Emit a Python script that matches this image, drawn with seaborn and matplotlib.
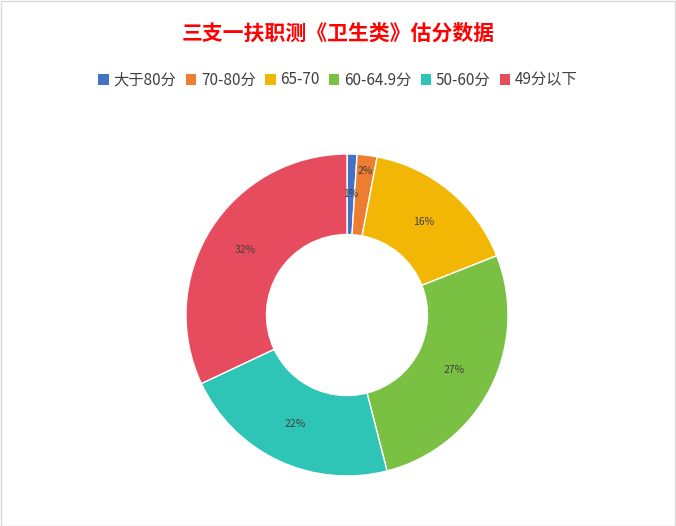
import matplotlib
matplotlib.use("Agg")
import numpy as np
import matplotlib.pyplot as plt
from matplotlib.patches import Patch, Rectangle
import seaborn as sns

# data
categories = ["大于80分", "70-80分", "65-70", "60-64.9分", "50-60分", "49分以下"]
shares = [1, 2, 16, 27, 22, 32]
colors = ["#4472C4", "#ED7D31", "#F2B705", "#7AC043", "#2EC4B6", "#E64B5E"]

sns.set_theme(style="white")
plt.rcParams["font.family"] = ["Noto Sans CJK SC", "DejaVu Sans"]

W, H = 676, 526
fig = plt.figure(figsize=(W / 100, H / 100), dpi=100)
fig.patch.set_facecolor("white")

# light frame around the chart area
fig.add_artist(Rectangle((0.5 / W, 0.5 / H), 1 - 1.5 / W, 1 - 1.5 / H,
                         transform=fig.transFigure, fill=False,
                         edgecolor="#D9D9D9", linewidth=1))

# donut: centre ~ (347, 315) px, outer radius ~161 px
cx, cy, r = 347, 315, 161
ax = fig.add_axes([(cx - r) / W, (H - cy - r) / H, 2 * r / W, 2 * r / H])
wedges, texts, autotexts = ax.pie(
    shares,
    colors=colors,
    startangle=90,
    counterclock=False,
    radius=1,
    autopct="%d%%",
    pctdistance=0.75,
    wedgeprops=dict(width=0.5, edgecolor="white", linewidth=1),
    textprops=dict(fontsize=7.5, color="#404040"),
)

# push the tiny slice label outward so it does not collide with its neighbour
w = wedges[1]
mid = np.deg2rad((w.theta1 + w.theta2) / 2)
autotexts[1].set_position((0.9 * np.cos(mid), 0.9 * np.sin(mid)))

ax.set_xlim(-1, 1)
ax.set_ylim(-1, 1)
ax.set_aspect("equal")
ax.axis("off")

fig.text(0.5, 1 - 33 / H, "三支一扶职测《卫生类》估分数据", ha="center", va="center",
         fontsize=15, fontweight="bold", color="#FF0000")

handles = [Patch(facecolor=c, edgecolor="none") for c in colors]
fig.legend(handles, categories, loc="center", bbox_to_anchor=(0.5, 1 - 80 / H),
           ncol=6, frameon=False, fontsize=11, handlelength=0.7, handleheight=0.7,
           handletextpad=0.3, columnspacing=0.6, labelcolor="#404040")

fig.savefig("out.png", dpi=100)
